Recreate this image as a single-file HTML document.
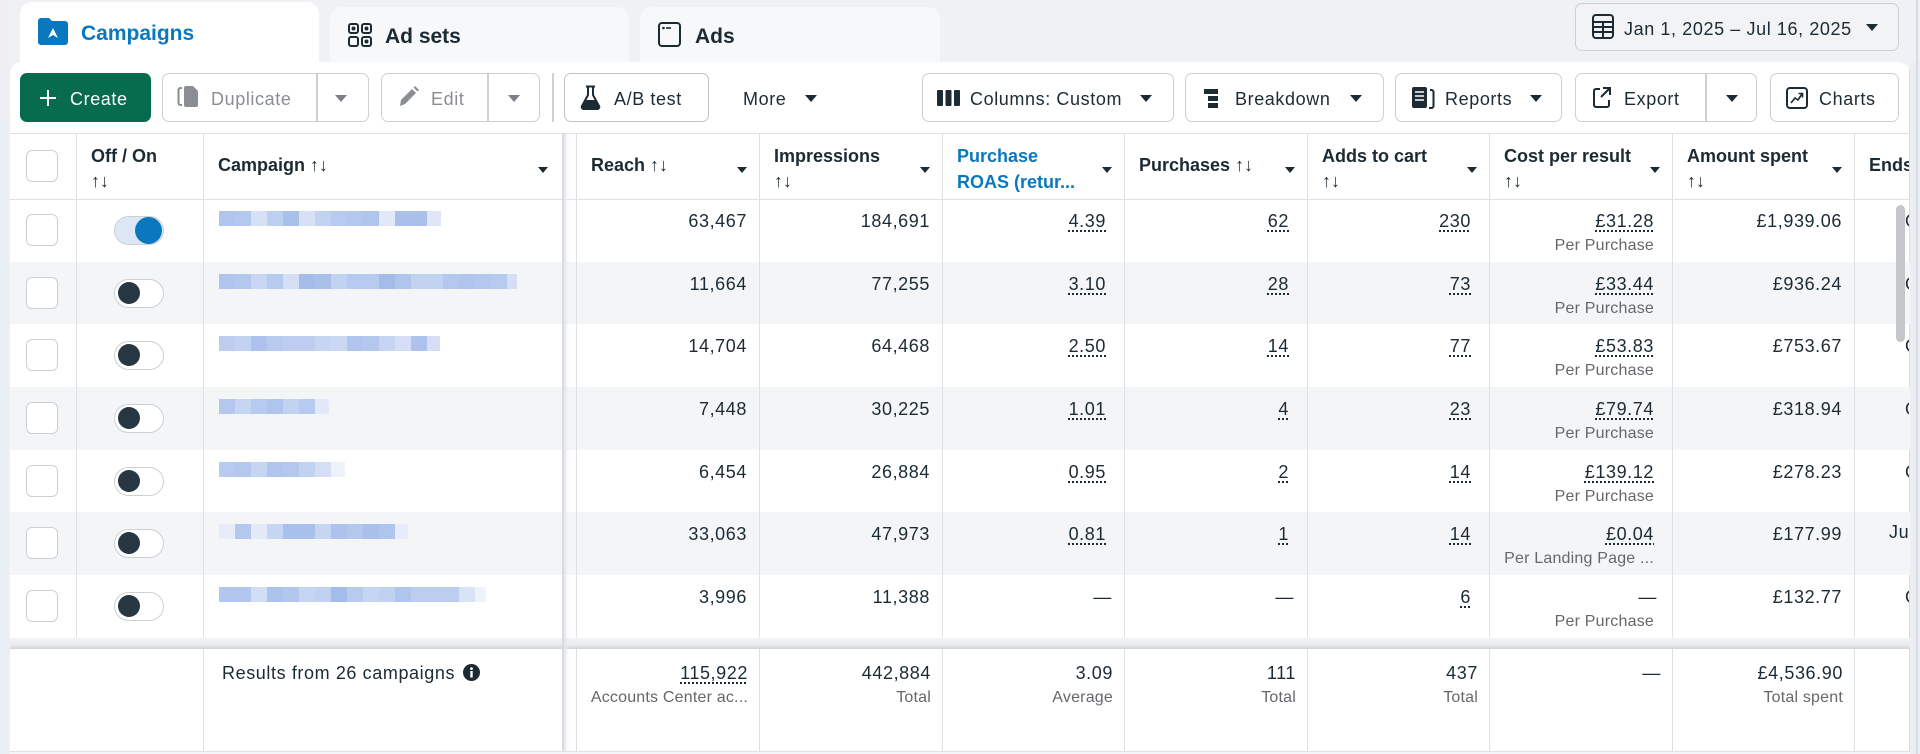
<!DOCTYPE html>
<html><head><meta charset="utf-8">
<style>
*{margin:0;padding:0;box-sizing:border-box}
html,body{width:1920px;height:754px;overflow:hidden;background:#eff1f4}
body{position:relative;font-family:"Liberation Sans",Arial,sans-serif;color:#1c2b33}
.a{position:absolute}
.t{position:absolute;white-space:nowrap;font-size:18px;line-height:18px;letter-spacing:0.6px;color:#1c2b33}
.b{font-weight:bold;letter-spacing:0}
.n{font-weight:normal}
.bl2{color:#0a78be}
.btn{position:absolute;top:73px;height:49px;border:1.5px solid #ccd0d5;border-radius:7px;background:#fff}
.car{position:absolute;top:95px;width:0;height:0;border-left:6px solid transparent;border-right:6px solid transparent;border-top:7px solid #1c2b33}
.hc{position:absolute;top:167px;width:0;height:0;border-left:5px solid transparent;border-right:5px solid transparent;border-top:6px solid #1c2b33}
.vl{position:absolute;width:1px;background:#dfe1e5}
.hl{position:absolute;height:1px;background:#dfe1e5;left:10px;width:1900px}
.cb{position:absolute;left:26px;width:32px;height:32px;border:1.5px solid #ccd0d5;border-radius:6px;background:#fff}
.tg{position:absolute;left:114px;width:50px;height:29px;border:1.5px solid #ccd0d5;border-radius:15px;background:#fff}
.kn{position:absolute;left:3px;top:2px;width:22px;height:22px;border-radius:50%;background:#273741}
.v{position:absolute;white-space:nowrap;font-size:18px;line-height:18px;letter-spacing:0.6px;text-align:right;color:#1c2b33}
.s{position:absolute;white-space:nowrap;font-size:16px;line-height:16px;letter-spacing:0.2px;text-align:right;color:#65676b}
.u{text-decoration:underline dotted;text-underline-offset:3px;text-decoration-thickness:1.5px}
.blk{position:absolute;left:219px;height:15px}
.gr{position:absolute;left:10px;width:1900px;background:#f4f5f7}
</style></head><body>

<!-- left strip -->
<div class="a" style="left:0;top:0;width:9px;height:754px;background:#f1eef3"></div>
<div class="a" style="left:0;top:120px;width:9px;height:634px;background:#e9eef6"></div>

<!-- tabs -->
<div class="a" style="left:330px;top:7px;width:299px;height:60px;background:#f7f8fa;border-radius:12px 12px 0 0"></div>
<div class="a" style="left:640px;top:7px;width:300px;height:60px;background:#f7f8fa;border-radius:12px 12px 0 0"></div>

<!-- panel -->
<div class="a" style="left:10px;top:62px;width:1900px;height:692px;background:#fff;border-radius:12px 12px 0 0"></div>
<div class="a" style="left:20px;top:2px;width:299px;height:72px;background:#fff;border-radius:12px 12px 0 0"></div>
<div class="a" style="left:1909px;top:70px;width:1px;height:684px;background:#dadde1"></div>
<div class="a" style="left:1910px;top:62px;width:10px;height:692px;background:#eceef1"></div>
<div class="a" style="left:1916px;top:0;width:1.5px;height:754px;background:#d6dde8"></div>

<!-- tab content -->
<svg class="a" style="left:38px;top:18px" width="30" height="27" viewBox="0 0 30 27"><path d="M0,3a3,3 0 0 1 3,-3h8l3,3h13a3,3 0 0 1 3,3v18a3,3 0 0 1 -3,3h-24a3,3 0 0 1 -3,-3z" fill="#0a78be"/><path d="M10,20L15,10L20,20L15,17Z" fill="#fff"/></svg>
<div class="t b bl2" style="left:81px;top:23px;font-size:21px;line-height:21px">Campaigns</div>

<svg class="a" style="left:348px;top:23px" width="24" height="24" viewBox="0 0 24 24"><g fill="none" stroke="#1c2b33" stroke-width="2"><rect x="1" y="1" width="9" height="9" rx="2"/><rect x="14" y="1" width="9" height="9" rx="2"/><rect x="1" y="14" width="9" height="9" rx="2"/><rect x="14" y="14" width="9" height="9" rx="2"/></g><g fill="#1c2b33"><circle cx="5.5" cy="5.5" r="2"/><circle cx="18.5" cy="5.5" r="2"/><circle cx="18.5" cy="18.5" r="2"/></g></svg>
<div class="t b" style="left:385px;top:26px;font-size:21px;line-height:21px">Ad sets</div>

<svg class="a" style="left:658px;top:22px" width="23" height="25" viewBox="0 0 23 25"><rect x="1" y="1" width="21" height="23" rx="3" fill="none" stroke="#1c2b33" stroke-width="2"/><circle cx="5.5" cy="6" r="1.3" fill="#1c2b33"/><rect x="8" y="5.2" width="5" height="1.6" fill="#1c2b33"/></svg>
<div class="t b" style="left:695px;top:26px;font-size:21px;line-height:21px">Ads</div>

<!-- date button -->
<div class="a" style="left:1575px;top:3px;width:324px;height:48px;background:#f2f3f5;border:1.5px solid #ccd0d5;border-radius:7px"></div>
<svg class="a" style="left:1592px;top:14px" width="22" height="25" viewBox="0 0 22 25"><g fill="none" stroke="#1c2b33" stroke-width="2"><rect x="1" y="1" width="20" height="23" rx="3"/><path d="M1,8H21M1,13H21M1,18H21M11,8V24"/></g></svg>
<div class="t" style="left:1624px;top:20px">Jan 1, 2025 – Jul 16, 2025</div>
<div class="car" style="left:1866px;top:24px"></div>

<!-- toolbar -->
<div class="btn" style="left:20px;width:131px;background:#076b4d;border-color:#076b4d"></div>
<div class="a" style="left:40px;top:97px;width:16px;height:2px;background:#fff"></div>
<div class="a" style="left:47px;top:90px;width:2px;height:16px;background:#fff"></div>
<div class="t" style="left:70px;top:90px;color:#fff">Create</div>

<div class="btn" style="left:162px;width:207px"></div>
<div class="a" style="left:316px;top:74px;width:1.5px;height:47px;background:#ccd0d5"></div>
<svg class="a" style="left:177px;top:85px" width="23" height="23" viewBox="0 0 23 23"><path d="M5,3H3.5a2,2 0 0 0 -2,2v13a2,2 0 0 0 2,2H5" fill="none" stroke="#8a8d91" stroke-width="2"/><path d="M9,1h7l5,5v14a2,2 0 0 1 -2,2h-10a2,2 0 0 1 -2,-2v-17a2,2 0 0 1 2,-2z" fill="#8a8d91"/></svg>
<div class="t" style="left:211px;top:90px;color:#8a8d91">Duplicate</div>
<div class="car" style="left:335px;border-top-color:#7d8187"></div>

<div class="btn" style="left:381px;width:159px"></div>
<div class="a" style="left:487px;top:74px;width:1.5px;height:47px;background:#ccd0d5"></div>
<svg class="a" style="left:398px;top:86px" width="21" height="22" viewBox="0 0 21 22"><path d="M2,20L3,14L14,3L18,7L7,18Z" fill="#8a8d91"/><path d="M15.5,1.5L17,0L21,4L19.5,5.5Z" fill="#8a8d91"/></svg>
<div class="t" style="left:431px;top:90px;color:#8a8d91">Edit</div>
<div class="car" style="left:508px;border-top-color:#7d8187"></div>

<div class="a" style="left:552px;top:73px;width:1.5px;height:49px;background:#ccd0d5"></div>

<div class="btn" style="left:564px;width:145px;border-color:#bfc4ca"></div>
<svg class="a" style="left:580px;top:85px" width="21" height="25" viewBox="0 0 21 25"><path d="M6,1.5h9M8,2v8L2,21a2,2 0 0 0 2,3h13a2,2 0 0 0 2,-3L13,10V2" fill="none" stroke="#1c2b33" stroke-width="2"/><path d="M4.8,15h11.4l3,5.5a2,2 0 0 1 -2,3h-13.4a2,2 0 0 1 -2,-3z" fill="#1c2b33"/></svg>
<div class="t" style="left:614px;top:90px">A/B test</div>

<div class="t" style="left:743px;top:90px">More</div>
<div class="car" style="left:805px"></div>

<div class="btn" style="left:922px;width:252px"></div>
<svg class="a" style="left:937px;top:90px" width="23" height="16" viewBox="0 0 23 16"><rect x="0" y="0" width="6" height="16" rx="1" fill="#1c2b33"/><rect x="8.5" y="0" width="6" height="16" rx="1" fill="#1c2b33"/><rect x="17" y="0" width="6" height="16" rx="1" fill="#1c2b33"/></svg>
<div class="t" style="left:970px;top:90px">Columns: Custom</div>
<div class="car" style="left:1140px"></div>

<div class="btn" style="left:1185px;width:199px"></div>
<svg class="a" style="left:1204px;top:89px" width="14" height="19" viewBox="0 0 14 19"><rect x="0" y="0" width="14" height="5" fill="#1c2b33"/><rect x="4" y="7" width="10" height="5" fill="#1c2b33"/><rect x="4" y="14" width="10" height="5" fill="#1c2b33"/></svg>
<div class="t" style="left:1235px;top:90px">Breakdown</div>
<div class="car" style="left:1350px"></div>

<div class="btn" style="left:1395px;width:167px"></div>
<svg class="a" style="left:1411px;top:86px" width="25" height="23" viewBox="0 0 25 23"><rect x="1" y="1" width="15" height="21" rx="2" fill="#1c2b33"/><path d="M4,6H13M4,10H13M4,14H13" stroke="#fff" stroke-width="1.6"/><path d="M19,4h1.5a2,2 0 0 1 2,2v14a2,2 0 0 1 -2,2H18" fill="none" stroke="#1c2b33" stroke-width="2"/></svg>
<div class="t" style="left:1445px;top:90px">Reports</div>
<div class="car" style="left:1530px"></div>

<div class="btn" style="left:1575px;width:182px"></div>
<div class="a" style="left:1705px;top:74px;width:1.5px;height:47px;background:#ccd0d5"></div>
<svg class="a" style="left:1592px;top:86px" width="20" height="23" viewBox="0 0 20 23"><path d="M8,3H4a2,2 0 0 0 -2,2v14a2,2 0 0 0 2,2h11a2,2 0 0 0 2,-2v-5" fill="none" stroke="#1c2b33" stroke-width="2"/><path d="M11,2h7v7M18,2L9,11" fill="none" stroke="#1c2b33" stroke-width="2"/></svg>
<div class="t" style="left:1624px;top:90px">Export</div>
<div class="car" style="left:1726px"></div>

<div class="btn" style="left:1770px;width:129px"></div>
<svg class="a" style="left:1786px;top:87px" width="22" height="22" viewBox="0 0 22 22"><rect x="1" y="1" width="20" height="20" rx="3" fill="none" stroke="#1c2b33" stroke-width="2"/><path d="M5,16L9,11L12,13L16,7M12.5,6.5H16.5V10.5" fill="none" stroke="#1c2b33" stroke-width="1.6"/></svg>
<div class="t" style="left:1819px;top:90px">Charts</div>

<!-- row backgrounds -->
<div class="gr" style="top:262px;height:62px"></div>
<div class="gr" style="top:387px;height:63px"></div>
<div class="gr" style="top:512px;height:63px"></div>

<!-- footer band -->
<div class="a" style="left:10px;top:638px;width:1900px;height:11px;background:linear-gradient(#f3f4f6,#eaebee 60%,#d3d5d9)"></div>

<!-- horizontal lines -->
<div class="hl" style="top:133px"></div>
<div class="hl" style="top:199px"></div>
<div class="hl" style="top:751px"></div>
<div class="a" style="left:10px;top:752px;width:1900px;height:2px;background:#f4f5f7"></div>

<!-- vertical lines -->
<div class="vl" style="left:76px;top:133px;height:505px"></div>
<div class="vl" style="left:203px;top:133px;height:505px"></div>
<div class="vl" style="left:576px;top:133px;height:505px"></div>
<div class="vl" style="left:759px;top:133px;height:505px"></div>
<div class="vl" style="left:942px;top:133px;height:505px"></div>
<div class="vl" style="left:1124px;top:133px;height:505px"></div>
<div class="vl" style="left:1307px;top:133px;height:505px"></div>
<div class="vl" style="left:1489px;top:133px;height:505px"></div>
<div class="vl" style="left:1672px;top:133px;height:505px"></div>
<div class="vl" style="left:1854px;top:133px;height:505px"></div>

<div class="vl" style="left:203px;top:649px;height:102px"></div>
<div class="vl" style="left:576px;top:649px;height:102px"></div>
<div class="vl" style="left:759px;top:649px;height:102px"></div>
<div class="vl" style="left:942px;top:649px;height:102px"></div>
<div class="vl" style="left:1124px;top:649px;height:102px"></div>
<div class="vl" style="left:1307px;top:649px;height:102px"></div>
<div class="vl" style="left:1489px;top:649px;height:102px"></div>
<div class="vl" style="left:1672px;top:649px;height:102px"></div>
<div class="vl" style="left:1854px;top:649px;height:102px"></div>

<!-- sticky shadow -->
<div class="a" style="left:562px;top:133px;width:2px;height:618px;background:#d8dbdf"></div>
<div class="a" style="left:564px;top:133px;width:6px;height:618px;background:linear-gradient(90deg,rgba(225,227,231,0.9),rgba(240,241,243,0.4) 60%,rgba(255,255,255,0))"></div>

<!-- header -->
<div class="cb" style="top:150px"></div>
<div class="t b" style="left:91px;top:147px">Off / On</div>
<div class="t" style="left:91px;top:172px;letter-spacing:0">↑↓</div>
<div class="t b" style="left:218px;top:156px">Campaign <span class="n">↑↓</span></div>
<div class="hc" style="left:538px"></div>
<div class="t b" style="left:591px;top:156px">Reach <span class="n">↑↓</span></div>
<div class="hc" style="left:737px"></div>
<div class="t b" style="left:774px;top:147px">Impressions</div>
<div class="t" style="left:774px;top:172px;letter-spacing:0">↑↓</div>
<div class="hc" style="left:920px"></div>
<div class="t b bl2" style="left:957px;top:147px">Purchase</div>
<div class="t b bl2" style="left:957px;top:173px">ROAS (retur...</div>
<div class="hc" style="left:1102px"></div>
<div class="t b" style="left:1139px;top:156px">Purchases <span class="n">↑↓</span></div>
<div class="hc" style="left:1285px"></div>
<div class="t b" style="left:1322px;top:147px">Adds to cart</div>
<div class="t" style="left:1322px;top:172px;letter-spacing:0">↑↓</div>
<div class="hc" style="left:1467px"></div>
<div class="t b" style="left:1504px;top:147px">Cost per result</div>
<div class="t" style="left:1504px;top:172px;letter-spacing:0">↑↓</div>
<div class="hc" style="left:1650px"></div>
<div class="t b" style="left:1687px;top:147px">Amount spent</div>
<div class="t" style="left:1687px;top:172px;letter-spacing:0">↑↓</div>
<div class="hc" style="left:1832px"></div>

<!-- ROW 1 -->
<div class="cb" style="top:214px"></div>
<div class="tg" style="top:216px;background:#dce8f6"><div class="kn" style="left:20px;top:-0.5px;width:27px;height:27px;background:#0a78be"></div></div>
<div class="blk" style="top:211px;width:222px;background:linear-gradient(90deg,#b0c5ee 0 16px,#b4c8ee 16px 32px,#d7e1f5 32px 48px,#bed0f0 48px 64px,#a9c0eb 64px 80px,#d7e1f5 80px 96px,#c2d3f1 96px 112px,#b7caef 112px 128px,#b4c8ee 128px 144px,#b0c5ee 144px 160px,#e1e8f7 160px 176px,#a9c0eb 176px 192px,#a9c0eb 192px 208px,#dfe7f7 208px 224px)"></div>
<div class="v" style="right:1173px;top:212px">63,467</div>
<div class="v" style="right:990px;top:212px">184,691</div>
<div class="v u" style="right:814px;top:212px">4.39</div>
<div class="v u" style="right:631px;top:212px">62</div>
<div class="v u" style="right:449px;top:212px">230</div>
<div class="v u" style="right:266px;top:212px">£31.28</div>
<div class="s" style="right:266px;top:238px">Per Purchase</div>
<div class="v" style="right:78px;top:212px">£1,939.06</div>

<!-- ROW 2 -->
<div class="cb" style="top:277px"></div>
<div class="tg" style="top:279px"><div class="kn"></div></div>
<div class="blk" style="top:274px;width:298px;background:linear-gradient(90deg,#b0c5ee 0 16px,#b4c8ee 16px 32px,#c8d6f2 32px 48px,#b7caef 48px 64px,#d5def5 64px 80px,#a3bcea 80px 96px,#a9c0eb 96px 112px,#c2d3f1 112px 128px,#b7caef 128px 144px,#b7caef 144px 160px,#a3bcea 160px 176px,#b0c5ee 176px 192px,#c2d3f1 192px 208px,#c2d3f1 208px 224px,#b4c8ee 224px 240px,#b0c5ee 240px 256px,#b4c8ee 256px 272px,#b7caef 272px 288px,#d5def5 288px 304px)"></div>
<div class="v" style="right:1173px;top:275px">11,664</div>
<div class="v" style="right:990px;top:275px">77,255</div>
<div class="v u" style="right:814px;top:275px">3.10</div>
<div class="v u" style="right:631px;top:275px">28</div>
<div class="v u" style="right:449px;top:275px">73</div>
<div class="v u" style="right:266px;top:275px">£33.44</div>
<div class="s" style="right:266px;top:301px">Per Purchase</div>
<div class="v" style="right:78px;top:275px">£936.24</div>

<!-- ROW 3 -->
<div class="cb" style="top:339px"></div>
<div class="tg" style="top:341px"><div class="kn"></div></div>
<div class="blk" style="top:336px;width:221px;background:linear-gradient(90deg,#bccdf0 0 16px,#c2d3f1 16px 32px,#adc3ed 32px 48px,#b7caef 48px 64px,#bccdf0 64px 80px,#bccdf0 80px 96px,#c6d5f2 96px 112px,#cbd8f3 112px 128px,#b0c5ee 128px 144px,#b4c8ee 144px 160px,#c6d5f2 160px 176px,#d5def5 176px 192px,#adc3ed 192px 208px,#d5def5 208px 224px)"></div>
<div class="v" style="right:1173px;top:337px">14,704</div>
<div class="v" style="right:990px;top:337px">64,468</div>
<div class="v u" style="right:814px;top:337px">2.50</div>
<div class="v u" style="right:631px;top:337px">14</div>
<div class="v u" style="right:449px;top:337px">77</div>
<div class="v u" style="right:266px;top:337px">£53.83</div>
<div class="s" style="right:266px;top:363px">Per Purchase</div>
<div class="v" style="right:78px;top:337px">£753.67</div>

<!-- ROW 4 -->
<div class="cb" style="top:402px"></div>
<div class="tg" style="top:404px"><div class="kn"></div></div>
<div class="blk" style="top:399px;width:110px;background:linear-gradient(90deg,#b4c8ee 0 16px,#c6d5f2 16px 32px,#b7caef 32px 48px,#b0c5ee 48px 64px,#c2d3f1 64px 80px,#b7caef 80px 96px,#e1e8f7 96px 112px)"></div>
<div class="v" style="right:1173px;top:400px">7,448</div>
<div class="v" style="right:990px;top:400px">30,225</div>
<div class="v u" style="right:814px;top:400px">1.01</div>
<div class="v u" style="right:631px;top:400px">4</div>
<div class="v u" style="right:449px;top:400px">23</div>
<div class="v u" style="right:266px;top:400px">£79.74</div>
<div class="s" style="right:266px;top:426px">Per Purchase</div>
<div class="v" style="right:78px;top:400px">£318.94</div>

<!-- ROW 5 -->
<div class="cb" style="top:465px"></div>
<div class="tg" style="top:467px"><div class="kn"></div></div>
<div class="blk" style="top:462px;width:126px;background:linear-gradient(90deg,#b7caef 0 16px,#b4c8ee 16px 32px,#c6d5f2 32px 48px,#b0c5ee 48px 64px,#b4c8ee 64px 80px,#c2d3f1 80px 96px,#d5def5 96px 112px,#eef2fb 112px 128px)"></div>
<div class="v" style="right:1173px;top:463px">6,454</div>
<div class="v" style="right:990px;top:463px">26,884</div>
<div class="v u" style="right:814px;top:463px">0.95</div>
<div class="v u" style="right:631px;top:463px">2</div>
<div class="v u" style="right:449px;top:463px">14</div>
<div class="v u" style="right:266px;top:463px">£139.12</div>
<div class="s" style="right:266px;top:489px">Per Purchase</div>
<div class="v" style="right:78px;top:463px">£278.23</div>

<!-- ROW 6 -->
<div class="cb" style="top:527px"></div>
<div class="tg" style="top:529px"><div class="kn"></div></div>
<div class="blk" style="top:524px;width:189px;background:linear-gradient(90deg,#e6ecf8 0 16px,#b4c8ee 16px 32px,#e3eaf7 32px 48px,#c6d5f2 48px 64px,#a9c0eb 64px 80px,#a9c0eb 80px 96px,#c6d5f2 96px 112px,#adc3ed 112px 128px,#b4c8ee 128px 144px,#a9c0eb 144px 160px,#b0c5ee 160px 176px,#e6ecf8 176px 192px)"></div>
<div class="v" style="right:1173px;top:525px">33,063</div>
<div class="v" style="right:990px;top:525px">47,973</div>
<div class="v u" style="right:814px;top:525px">0.81</div>
<div class="v u" style="right:631px;top:525px">1</div>
<div class="v u" style="right:449px;top:525px">14</div>
<div class="v u" style="right:266px;top:525px">£0.04</div>
<div class="s" style="right:266px;top:551px">Per Landing Page ...</div>
<div class="v" style="right:78px;top:525px">£177.99</div>

<!-- ROW 7 -->
<div class="cb" style="top:590px"></div>
<div class="tg" style="top:592px"><div class="kn"></div></div>
<div class="blk" style="top:587px;width:267px;background:linear-gradient(90deg,#b3c7ee 0 16px,#b3c7ee 16px 32px,#d2def5 32px 48px,#abc2ec 48px 64px,#b3c7ee 64px 80px,#c6d5f2 80px 96px,#c0d1f1 96px 112px,#a3bcea 112px 128px,#b8cbef 128px 144px,#c6d5f2 144px 160px,#c0d1f1 160px 176px,#b0c5ee 176px 192px,#bccdf0 192px 208px,#bccdf0 208px 224px,#bccdf0 224px 240px,#d9e3f6 240px 256px,#eef2fb 256px 272px)"></div>
<div class="v" style="right:1173px;top:588px">3,996</div>
<div class="v" style="right:990px;top:588px">11,388</div>
<div class="v" style="right:808px;top:588px">—</div>
<div class="v" style="right:626px;top:588px">—</div>
<div class="v u" style="right:449px;top:588px">6</div>
<div class="v" style="right:263px;top:588px">—</div>
<div class="s" style="right:266px;top:614px">Per Purchase</div>
<div class="v" style="right:78px;top:588px">£132.77</div>

<!-- Ends column (clipped) -->
<div class="a" style="left:1855px;top:133px;width:54px;height:618px;overflow:hidden">
  <div class="t b" style="left:14px;top:23px">Ends</div>
  <div class="t" style="left:50px;top:79px">Ongoing</div>
  <div class="t" style="left:50px;top:142px">Ongoing</div>
  <div class="t" style="left:50px;top:204px">Ongoing</div>
  <div class="t" style="left:50px;top:267px">Ongoing</div>
  <div class="t" style="left:50px;top:330px">Ongoing</div>
  <div class="t" style="left:34px;top:390px">Jul 16, 2025</div>
  <div class="t" style="left:50px;top:455px">Ongoing</div>
</div>

<!-- scrollbar -->
<div class="a" style="left:1896px;top:205px;width:9px;height:137px;background:#c4c6ca;border-radius:5px"></div>

<!-- footer -->
<div class="t" style="left:222px;top:664px">Results from 26 campaigns</div>
<svg class="a" style="left:463px;top:664px" width="17" height="17" viewBox="0 0 17 17"><circle cx="8.5" cy="8.5" r="8.5" fill="#1c2b33"/><rect x="7.3" y="7" width="2.4" height="6.5" fill="#fff"/><circle cx="8.5" cy="4.6" r="1.4" fill="#fff"/></svg>
<div class="v u" style="right:1172px;top:664px">115,922</div>
<div class="s" style="right:1172px;top:690px">Accounts Center ac...</div>
<div class="v" style="right:989px;top:664px">442,884</div>
<div class="s" style="right:989px;top:690px">Total</div>
<div class="v" style="right:807px;top:664px">3.09</div>
<div class="s" style="right:807px;top:690px">Average</div>
<div class="v" style="right:624px;top:664px">111</div>
<div class="s" style="right:624px;top:690px">Total</div>
<div class="v" style="right:442px;top:664px">437</div>
<div class="s" style="right:442px;top:690px">Total</div>
<div class="v" style="right:259px;top:664px">—</div>
<div class="v" style="right:77px;top:664px">£4,536.90</div>
<div class="s" style="right:77px;top:690px">Total spent</div>

</body></html>
